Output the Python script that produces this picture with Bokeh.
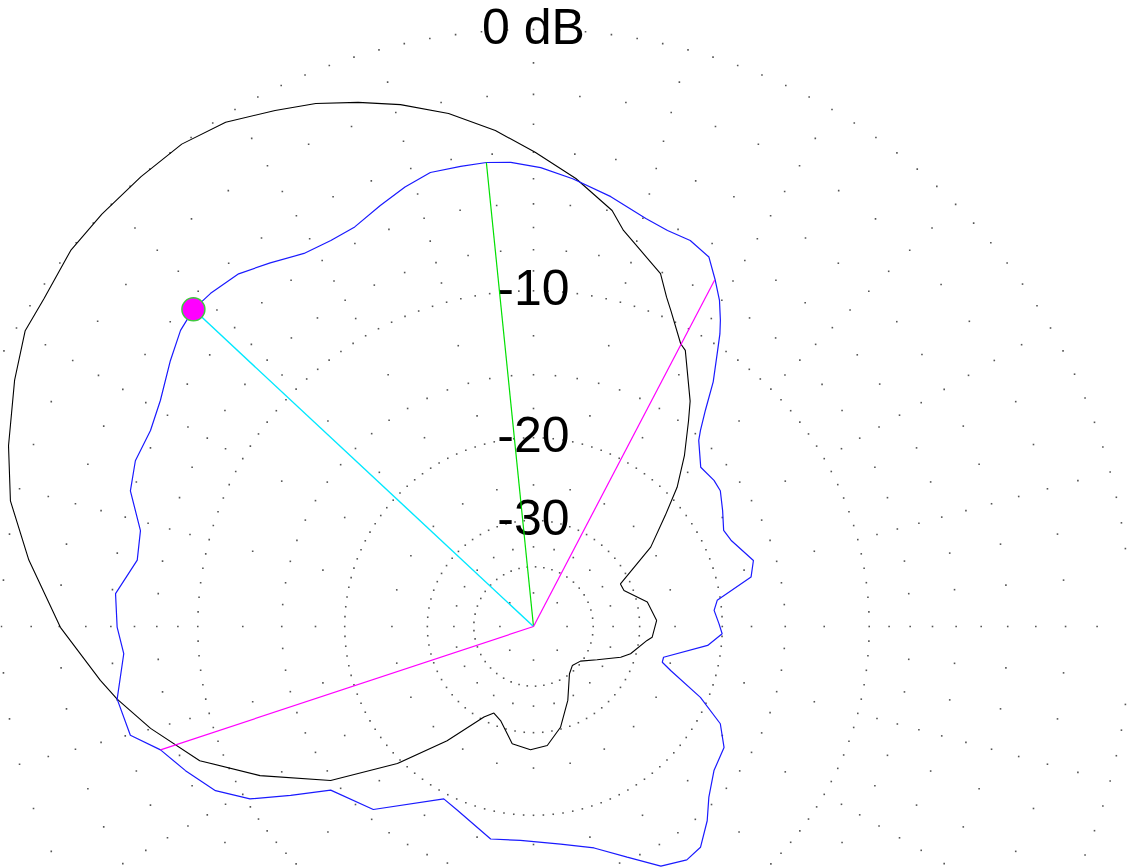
import numpy as np
from bokeh.plotting import figure
from bokeh.models import Range1d
from bokeh.embed import file_html
from bokeh.resources import INLINE
from bokeh.core.properties import value

# ---- pattern data: angle in degrees (counter-clockwise from the right), level in dB ----
black_ang = [2.8, 12.1, 21.7, 26.1, 30.9, 34.1, 40.1, 44.1, 48.6, 53.0, 55.2, 61.2, 62.5, 66.5,
             68.0, 70.2, 74.1, 77.2, 79.3, 84.6, 89.8, 94.4, 99.4, 104.3, 108.5, 112.6, 116.6,
             121.4, 126.1, 131.1, 136.3, 140.9, 146.2, 149.8, 154.6, 161.0, 166.5, 172.5, 180.1,
             187.1, 189.9, 194.9, 201.9, 208.6, 217.2, 225.2, 232.9, 241.3, 245.4, 250.7, 259.7,
             268.6, 276.6, 285.0, 294.9, 307.3, 314.8, 323.6, 332.4, 340.6, 344.3, 353.0, 354.8]
black_db = [-27.4, -28.4, -31.5, -31.6, -28.0, -25.0, -21.6, -19.0, -16.7, -14.6, -13.5, -11.1, -10.9, -9.55,
            -9.02, -8.08, -7.35, -6.69, -5.97, -4.91, -4.0, -3.17, -2.4, -1.79, -1.34, -0.91, -0.59,
            -0.18, 0.0, 0.0, 0.0, -0.02, -0.23, -0.26, -0.67, -1.26, -1.81, -2.77, -4.04,
            -5.44, -6.0, -7.12, -8.8, -11.3, -14.8, -19.6, -24.8, -30.5, -31.9, -31.1, -28.0,
            -27.4, -27.9, -30.3, -34.6, -40.1, -41.4, -40.4, -36.8, -32.4, -30.9, -28.7, -28.0]

blue_ang = [0.8, 5.1, 8.1, 12.8, 16.7, 23.6, 26.8, 31.5, 36.0, 39.0, 43.6, 48.4, 49.6, 51.5,
            53.7, 56.3, 57.5, 58.6, 60.3, 62.3, 64.6, 67.9, 71.3, 74.6, 79.8, 85.0, 89.1, 92.8,
            95.8, 99.0, 102.8, 106.3, 110.0, 114.1, 117.7, 121.6, 125.9, 129.9, 134.1, 137.0,
            140.0, 143.8, 148.8, 152.9, 157.4, 161.4, 166.3, 170.5, 175.5, 180.1, 183.8, 189.9,
            195.1, 198.3, 202.5, 207.3, 211.3, 214.8, 218.9, 228.8, 242.5, 247.5, 258.6, 266.5,
            277.1, 285.3, 292.1, 298.0, 303.3, 307.1, 311.8, 315.8, 321.4, 327.6, 332.5, 337.0,
            342.2, 344.5, 346.7, 353.8, 357.8]
blue_db = [-20.3, -20.7, -20.3, -17.1, -16.6, -17.7, -17.9, -17.2, -16.5, -16.4, -16.5, -15.2, -14.6, -13.4,
           -11.75, -10.2, -9.43, -8.85, -8.06, -7.35, -6.57, -6.25, -6.19, -5.98, -5.43, -4.93, -4.57, -4.35,
           -4.29, -4.31, -4.32, -4.61, -4.99, -5.39, -5.46, -5.38, -4.95, -4.54, -4.38, -4.34,
           -4.50, -4.91, -5.45, -5.69, -5.65, -5.89, -6.76, -6.88, -6.14, -6.26, -6.50, -6.0,
           -6.21, -7.27, -8.0, -8.89, -10.2, -12.2, -14.4, -15.6, -19.5, -19.1, -17.6, -17.8,
           -17.4, -16.6, -15.2, -13.7, -13.2, -13.35, -14.4, -15.5, -16.5, -16.9, -18.1, -20.7,
           -24.7, -26.0, -26.0, -21.3, -20.0]

peak_ang, peak_db = 95.8, -4.29          # green line
marker_ang, marker_db = 137.0, -4.34     # cyan line + marker
bw_ang = [62.4, 198.3]                   # magenta (-3 dB) lines
bw_db = [-7.35, -7.27]

ring_levels = [0, -10, -20, -30, -40]
ring_step = [2.5, 2.5, 3.0, 5.0, 8.0]
label_levels = [0, -10, -20, -30]
label_texts = ["0 dB", "-10", "-20", "-30"]
spoke_levels_fine = [-2, -4, -6, -8, -15]
spoke_levels_coarse = [-1, -3, -5, -7, -9, -12.5, -17.5, -25, -35]
spoke_levels_inner = [-50]

R0 = 597.0


def radius(db):
    return R0 * 10 ** (np.asarray(db, dtype=float) / 40.0)


def to_xy(ang, db):
    r = radius(db)
    t = np.radians(np.asarray(ang, dtype=float))
    return r * np.cos(t), r * np.sin(t)


W, H = 1127, 867
CX, CY = 533, 626
p = figure(width=W, height=H, output_backend="svg", toolbar_location=None,
           x_range=Range1d(-CX, W - CX), y_range=Range1d(-(H - CY), CY),
           min_border=0)
p.axis.visible = False
p.grid.visible = False
p.outline_line_color = None
p.background_fill_color = "white"

# grid dots
gx, gy = [], []
for lev, st in zip(ring_levels, ring_step):
    a = np.arange(0, 360, st)
    x, y = to_xy(a, np.full(a.shape, lev))
    gx.append(x); gy.append(y)
for levs, st in ((spoke_levels_fine, 5.0), (spoke_levels_coarse, 15.0), (spoke_levels_inner, 45.0)):
    for lev in levs:
        a = np.arange(0, 360, st)
        x, y = to_xy(a, np.full(a.shape, lev))
        gx.append(x); gy.append(y)
gx = np.concatenate(gx); gy = np.concatenate(gy)
p.scatter(gx, gy, marker="square", size=1.6, fill_color="#555555", line_color=None)

# labels
for lev, txt in zip(label_levels, label_texts):
    p.text([0], [float(radius(lev))], text=[txt], text_font=value("Liberation Sans"),
           text_font_size="50px", text_align="center", text_baseline="alphabetic",
           y_offset=-3, text_color="black")

# patterns
bx, by = to_xy(black_ang + [black_ang[0] + 360], black_db + [black_db[0]])
p.line(bx, by, line_color="black", line_width=1.1)
ux, uy = to_xy(blue_ang + [blue_ang[0] + 360], blue_db + [blue_db[0]])
p.line(ux, uy, line_color="#1a1aff", line_width=1.2)

# direction lines
px_, py_ = to_xy([peak_ang], [peak_db])
p.line([0, px_[0]], [0, py_[0]], line_color="#00e000", line_width=1.2)
mx, my = to_xy([marker_ang], [marker_db])
p.line([0, mx[0]], [0, my[0]], line_color="#00e8ff", line_width=1.4)
for a, d in zip(bw_ang, bw_db):
    ex, ey = to_xy([a], [d])
    p.line([0, ex[0]], [0, ey[0]], line_color="#ff00ff", line_width=1.2)

p.scatter(mx, my, marker="circle", size=23, fill_color="#ff00ff", line_color="#40c840", line_width=1.5)

open("out.html", "w").write(file_html(p, INLINE))
